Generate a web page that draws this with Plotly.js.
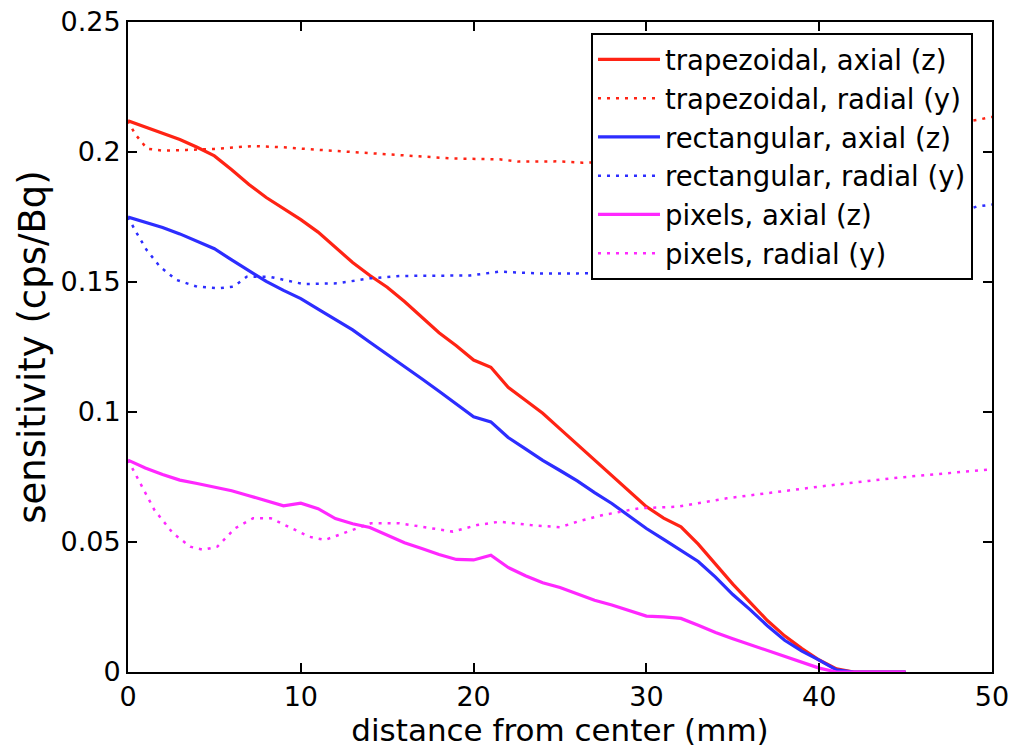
<!DOCTYPE html>
<html>
<head>
<meta charset="utf-8">
<script src="https://cdn.plot.ly/plotly-3.0.1.min.js"></script>
<style>html,body{margin:0;padding:0;background:#fff;}#chart{width:1012px;height:751px;}</style>
</head>
<body>
<div id="chart"></div>
<script>
// Axial scans (1 mm steps)
const xAxial = [0,1,2,3,4,5,6,7,8,9,10,11,12,13,14,15,16,17,18,19,20,21,22,23,24,25,26,27,28,29,30,31,32,33,34,35,36,37,38,39,40,41,42,43,44,45];
const trapAxial = [0.212,0.2095,0.207,0.2048,0.2018,0.1985,0.1932,0.1875,0.1825,0.1782,0.174,0.1692,0.1635,0.1575,0.1525,0.148,0.1425,0.1365,0.1305,0.1255,0.12,0.1172,0.1095,0.1045,0.0995,0.0935,0.0875,0.0815,0.0755,0.0695,0.0636,0.0592,0.0558,0.0492,0.0415,0.0338,0.0268,0.0198,0.0139,0.0090,0.0046,0.0012,0,0,0,0];
const rectAxial = [0.175,0.173,0.171,0.1685,0.1658,0.1628,0.1585,0.1543,0.1502,0.1468,0.1436,0.1396,0.1355,0.1316,0.1268,0.1222,0.1175,0.1128,0.108,0.1032,0.0982,0.0962,0.0902,0.0858,0.0814,0.0775,0.0735,0.069,0.0648,0.06,0.0552,0.051,0.0468,0.0425,0.0365,0.0298,0.024,0.0178,0.0122,0.008,0.0046,0.0008,0,0,0,0];
const pixAxial = [0.0815,0.0785,0.076,0.0738,0.0725,0.0712,0.0697,0.0678,0.0658,0.0639,0.0649,0.0628,0.059,0.057,0.0556,0.0525,0.0497,0.0475,0.0452,0.0433,0.0431,0.0449,0.0402,0.037,0.0343,0.0325,0.03,0.0276,0.0258,0.0237,0.0215,0.0212,0.0206,0.018,0.0152,0.0128,0.0105,0.0082,0.006,0.0036,0.0015,0,0,0,0,0];

// Radial scans
const xTrapRad = [0,0.4,1.1,2,3.4,5,7.25,9,11.1,13,15,16.9,18.8,21.5,22.6,24.9,26.3,30,34,38,42,45,47,49.1,50];
const trapRadial = [0.212,0.207,0.2013,0.2005,0.2008,0.2012,0.2023,0.2018,0.2008,0.2,0.1992,0.1985,0.1975,0.1972,0.1963,0.1964,0.1959,0.1965,0.198,0.2005,0.204,0.2075,0.21,0.2123,0.2135];
const xRectRad = [0,0.4,1.08,1.85,2.8,4,5.3,6.1,6.87,8.2,10.15,12.1,14,15.74,16.9,19.8,21.5,23.7,26,30,34,38,42,46,49.1,50];
const rectRadial = [0.175,0.17,0.1623,0.1559,0.1508,0.1482,0.1476,0.1482,0.152,0.152,0.1492,0.1495,0.1514,0.1523,0.1524,0.1525,0.154,0.1533,0.1533,0.154,0.1565,0.16,0.165,0.1715,0.179,0.1798];
const xPixRad = [0,0.7,1.53,2.6,3.6,4.35,5.17,6.2,7.23,8.27,9.3,10.5,11.4,12.4,14.06,15.7,17.6,18.8,20.2,21.5,23.3,25,26,27.5,29.6,31.8,34.65,40,44.3,50];
const pixRadial = [0.0815,0.0726,0.0623,0.0534,0.0482,0.047,0.0482,0.0553,0.0591,0.0591,0.0559,0.052,0.0508,0.0533,0.0572,0.0572,0.0553,0.054,0.0565,0.0578,0.0565,0.0557,0.0578,0.0604,0.063,0.0636,0.0668,0.0713,0.0746,0.078];

const names = ['trapezoidal, axial (z)','trapezoidal, radial (y)','rectangular, axial (z)','rectangular, radial (y)','pixels, axial (z)','pixels, radial (y)'];
const RED = 'rgb(255,35,20)', BLUE = 'rgb(45,45,255)', MAG = 'rgb(255,40,255)';
const FONT = 'DejaVu Sans, Liberation Sans, Arial, sans-serif';

const solidW = 3.2, dotW = 2.5, dotDash = '3px,6px';
const traces = [
  {x: xAxial, y: trapAxial, name: names[0], line: {color: RED, width: solidW}},
  {x: xTrapRad, y: trapRadial, name: names[1], line: {color: RED, width: dotW, dash: dotDash}},
  {x: xAxial, y: rectAxial, name: names[2], line: {color: BLUE, width: solidW}},
  {x: xRectRad, y: rectRadial, name: names[3], line: {color: BLUE, width: dotW, dash: dotDash}},
  {x: xAxial, y: pixAxial, name: names[4], line: {color: MAG, width: solidW}},
  {x: xPixRad, y: pixRadial, name: names[5], line: {color: MAG, width: dotW, dash: dotDash}}
].map(t => Object.assign({type: 'scatter', mode: 'lines', hoverinfo: 'skip'}, t));

const axisCommon = {
  showgrid: false, zeroline: false, showline: true, linecolor: '#000', linewidth: 2,
  mirror: 'ticks', ticks: 'inside', ticklen: 9, tickwidth: 2, tickcolor: '#000',
  tickfont: {family: FONT, size: 27, color: '#000'}
};

const layout = {
  width: 1012, height: 751,
  margin: {l: 128, r: 20, t: 22, b: 79},
  paper_bgcolor: '#fff', plot_bgcolor: '#fff',
  font: {family: FONT, color: '#000'},
  xaxis: Object.assign({}, axisCommon, {
    range: [0, 50], tickvals: [0,10,20,30,40,50],
    title: {text: 'distance from center (mm)', font: {family: FONT, size: 31, color: '#000'}, standoff: 2}
  }),
  yaxis: Object.assign({}, axisCommon, {
    range: [0, 0.25], tickvals: [0,0.05,0.1,0.15,0.2,0.25],
    title: {text: 'sensitivity (cps/Bq)', font: {family: FONT, size: 37, color: '#000'}, standoff: 4}
  }),
  showlegend: true,
  legend: {
    x: 0.978, xanchor: 'right', y: 0.983, yanchor: 'top',
    bgcolor: '#fff', bordercolor: '#000', borderwidth: 2,
    font: {family: FONT, size: 27.5, color: '#000'},
    itemwidth: 62, tracegroupgap: 0
  }
};

Plotly.newPlot('chart', traces, layout, {displayModeBar: false, staticPlot: true});
</script>
</body>
</html>
